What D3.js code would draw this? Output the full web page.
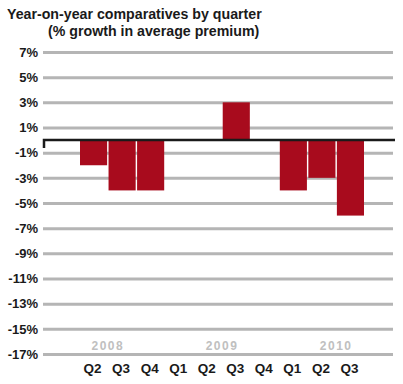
<!DOCTYPE html>
<html>
<head>
<meta charset="utf-8">
<script src="https://cdn.jsdelivr.net/npm/d3@7"></script>
<style>
  body { margin: 0; background: #fff; }
  text { font-family: "Liberation Sans", Arial, sans-serif; }
</style>
</head>
<body>
<div id="chart"></div>
<script>
// data
const periodYears = ["2008","2008","2008","2009","2009","2009","2009","2010","2010","2010"];
const periodQuarters = ["Q2","Q3","Q4","Q1","Q2","Q3","Q4","Q1","Q2","Q3"];
const growth = [-2, -4, -4, 0, 0, 3, 0, -4, -3, -6];
const yTicks = [7, 5, 3, 1, -1, -3, -5, -7, -9, -11, -13, -15, -17];
const yearLabels = ["2008", "2009", "2010"];

const data = periodQuarters.map((q, i) => ({key: periodYears[i] + " " + q, year: periodYears[i], q: q, value: growth[i]}));

const W = 403, H = 384;
const svg = d3.select("#chart").append("svg").attr("width", W).attr("height", H);

// title
svg.append("text").attr("x", 7).attr("y", 19).style("font-weight", "bold").style("font-size", "14.2px")
   .attr("fill", "#1a1a1a").text("Year-on-year comparatives by quarter");
svg.append("text").attr("x", 48).attr("y", 35.5).style("font-weight", "bold").style("font-size", "14.2px")
   .attr("fill", "#1a1a1a").text("(% growth in average premium)");

// scales
const x = d3.scaleBand().domain(data.map(d => d.key)).range([80, 364]).paddingInner(0.05);
const y = d3.scaleLinear().domain([-17, 7]).range([354, 52]);

// y axis with grid lines
const yAxis = svg.append("g").attr("transform", "translate(43,0)")
  .call(d3.axisLeft(y).tickValues(yTicks).tickSize(-350).tickPadding(5).tickFormat(d => d + "%"));
yAxis.select(".domain").remove();
yAxis.selectAll("line").attr("stroke", "#b5b5b5").attr("stroke-width", 3);
yAxis.selectAll("text").style("font-family", "'Liberation Sans', Arial, sans-serif")
  .style("font-weight", "bold").style("font-size", "13px").attr("fill", "#1a1a1a");

// bars
svg.append("g").selectAll("rect").data(data).join("rect")
   .attr("x", d => x(d.key)).attr("width", x.bandwidth())
   .attr("y", d => y(Math.max(0, d.value))).attr("height", d => Math.abs(y(d.value) - y(0)))
   .attr("fill", "#a80b1d");

// zero line
svg.append("path").attr("d", `M44,${y(0) + 8}V${y(0)}H395`)
   .attr("fill", "none").attr("stroke", "#1a1a1a").attr("stroke-width", 2.5);

// quarter labels
const xAxis = svg.append("g").attr("transform", "translate(-1,359)")
  .call(d3.axisBottom(x).tickSize(0).tickPadding(4).tickFormat(k => k.split(" ")[1]));
xAxis.select(".domain").remove();
xAxis.selectAll("text").style("font-family", "'Liberation Sans', Arial, sans-serif")
  .style("font-weight", "bold").style("font-size", "13.5px").attr("fill", "#1a1a1a");

// year labels, between Q2 and Q3 of each year
svg.append("g").selectAll("text").data(yearLabels).join("text")
   .attr("x", d => (x(d + " Q2") + x(d + " Q3")) / 2 + x.bandwidth() / 2)
   .attr("y", 350).attr("text-anchor", "middle")
   .style("font-weight", "bold").style("font-size", "12px").style("letter-spacing", "1.5px")
   .attr("fill", "#c0c0c0")
   .text(d => d);
</script>
</body>
</html>
